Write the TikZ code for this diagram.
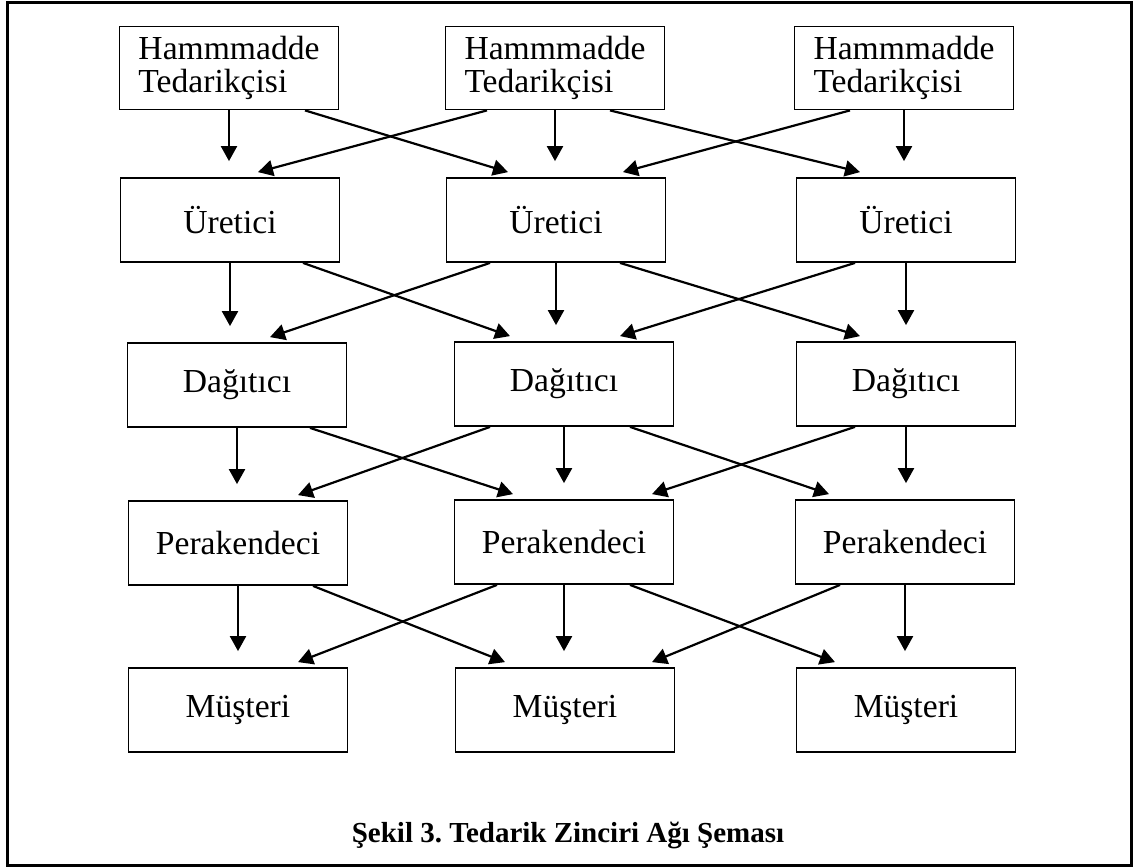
\documentclass[tikz,border=0pt]{standalone}
\usepackage{fontspec}
\setmainfont{Liberation Serif}
\usetikzlibrary{arrows.meta,calc}
\frenchspacing

\begin{document}
\begin{tikzpicture}[
  x=0.5pt, y=0.5pt,
  actor/.style={draw, line width=0.9pt, minimum width=109.5pt, minimum height=42pt,
    inner sep=0pt, align=center, font=\fontsize{16.8}{16.5}\selectfont},
  supplier/.style={actor, minimum height=41.5pt, align=left},
  arr/.style={line width=1.1pt, -{Triangle[length=7.5pt,width=8pt]}},
  down/.style={arr, shorten >=8pt}
]
\useasboundingbox (0,0) rectangle (1138,-867);

% outer frame
\draw[line width=1.5pt] (7,-2) rectangle (1131,-865);

% raw material suppliers
\node[supplier] (h1) at (229,-68) {Hammmadde\\Tedarikçisi};
\node[supplier] (h2) at (555,-68) {Hammmadde\\Tedarikçisi};
\node[supplier] (h3) at (904,-68) {Hammmadde\\Tedarikçisi};

% manufacturers
\node[actor] (u1) at (230,-220) {Üretici};
\node[actor] (u2) at (556,-220) {Üretici};
\node[actor] (u3) at (906,-220) {Üretici};

% distributors
\node[actor] (d1) at (237,-385) {Dağıtıcı};
\node[actor] (d2) at (564,-384) {Dağıtıcı};
\node[actor] (d3) at (906,-384) {Dağıtıcı};

% retailers
\node[actor] (p1) at (238,-543) {Perakendeci};
\node[actor] (p2) at (564,-542) {Perakendeci};
\node[actor] (p3) at (905,-542) {Perakendeci};

% customers
\node[actor] (m1) at (238,-710) {Müşteri};
\node[actor] (m2) at (565,-710) {Müşteri};
\node[actor] (m3) at (906,-710) {Müşteri};

% suppliers -> manufacturers
\draw[down] (h1.south) -- (h1.south |- u1.north);
\draw[down] (h2.south) -- (h2.south |- u2.north);
\draw[down] (h3.south) -- (h3.south |- u3.north);
\draw[arr] ($(h1.south)+(76,0)$) -- ($(u2.north)+(-48,5)$);
\draw[arr] ($(h2.south)+(-68,0)$) -- ($(u1.north)+(28,5)$);
\draw[arr] ($(h2.south)+(55,0)$) -- ($(u3.north)+(-46,5)$);
\draw[arr] ($(h3.south)+(-54,0)$) -- ($(u2.north)+(67,5)$);

% manufacturers -> distributors
\draw[down] (u1.south) -- (u1.south |- d1.north);
\draw[down] (u2.south) -- (u2.south |- d2.north);
\draw[down] (u3.south) -- (u3.south |- d3.north);
\draw[arr] ($(u1.south)+(73,0)$) -- ($(d2.north)+(-54,5)$);
\draw[arr] ($(u2.south)+(-66,0)$) -- ($(d1.north)+(33,5)$);
\draw[arr] ($(u2.south)+(64,0)$) -- ($(d3.north)+(-46,5)$);
\draw[arr] ($(u3.south)+(-51,0)$) -- ($(d2.north)+(56,5)$);

% distributors -> retailers
\draw[down] (d1.south) -- (d1.south |- p1.north);
\draw[down] (d2.south) -- (d2.south |- p2.north);
\draw[down] (d3.south) -- (d3.south |- p3.north);
\draw[arr] ($(d1.south)+(73,0)$) -- ($(p2.north)+(-51,5)$);
\draw[arr] ($(d2.south)+(-74,0)$) -- ($(p1.north)+(60,5)$);
\draw[arr] ($(d2.south)+(66,0)$) -- ($(p3.north)+(-76,5)$);
\draw[arr] ($(d3.south)+(-51,0)$) -- ($(p2.north)+(88,5)$);

% retailers -> customers
\draw[down] (p1.south) -- (p1.south |- m1.north);
\draw[down] (p2.south) -- (p2.south |- m2.north);
\draw[down] (p3.south) -- (p3.south |- m3.north);
\draw[arr] ($(p1.south)+(75,0)$) -- ($(m2.north)+(-60,5)$);
\draw[arr] ($(p2.south)+(-67,0)$) -- ($(m1.north)+(60,5)$);
\draw[arr] ($(p2.south)+(66,0)$) -- ($(m3.north)+(-71,5)$);
\draw[arr] ($(p3.south)+(-65,0)$) -- ($(m2.north)+(87,5)$);

% caption
\node[anchor=base, inner sep=0pt, font=\bfseries\fontsize{14.5}{17}\selectfont]
  (cap) at (568,-842) {Şekil 3. Tedarik Zinciri Ağı Şeması};
\end{tikzpicture}
\end{document}
